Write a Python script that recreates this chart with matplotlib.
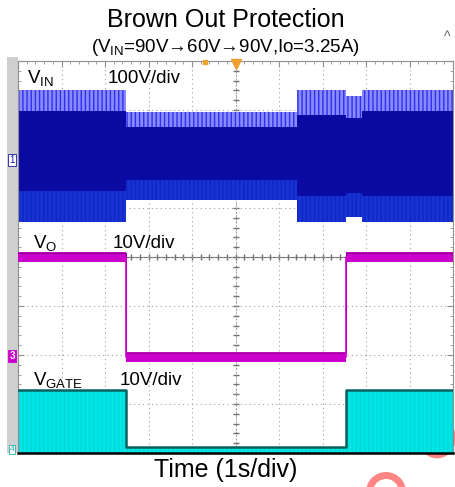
import matplotlib
matplotlib.use("Agg")
import matplotlib.pyplot as plt
import numpy as np
from matplotlib.patches import Rectangle, Circle, Wedge
from matplotlib.ticker import MultipleLocator
from matplotlib.transforms import blended_transform_factory

plt.rcParams["font.family"] = ["Liberation Sans", "DejaVu Sans"]
plt.rcParams["mathtext.fontset"] = "custom"
plt.rcParams["mathtext.rm"] = "Liberation Sans"
plt.rcParams["mathtext.it"] = "Liberation Sans"
plt.rcParams["hatch.linewidth"] = 1.0

W, H = 455, 487

# time in s (1 s/div), levels in screen divisions (0 = centre line)
vin_t = [-5, -2.52, 1.42, 2.55, 2.91, 5]
vin_peak = [3.41, 2.96, 3.41, 3.29, 3.41]
vin_body_top = [2.98, 2.65, 2.90, 2.84, 2.98]
vin_body_low = [1.35, 1.57, 1.25, 1.30, 1.25]
vin_valley = [0.71, 1.16, 0.71, 0.82, 0.71]

vo_t = [-5, -2.52, -2.52, 2.55, 2.55, 5]
vo_div = [0.0, 0.0, -2.04, -2.04, 0.0, 0.0]

vg_t = [-5, -2.52, -2.52, 2.55, 2.55, 5]
vg_div = [-2.72, -2.72, -3.88, -3.88, -2.72, -2.72]

channel_marks = [("1", 1.98), ("3", -2.02), ("4", -3.98)]

BLUE_DARK = "#0b0ba4"
BLUE_MID = "#1733d2"
BLUE_LIGHT = "#8a8aff"
MAGENTA = "#cc00cc"
CYAN = "#00e6e6"
TEAL = "#0a6060"


def padded(vals):
    return list(vals) + [vals[-1]]


fig = plt.figure(figsize=(W / 100, H / 100), dpi=100)
fig.patch.set_facecolor("white")

# grey strip at the left of the scope screen
fig.patches.append(Rectangle((7 / W, 1 - 453 / H), 11 / W, (453 - 57) / H,
                             transform=fig.transFigure, facecolor="#cfcfcf",
                             edgecolor="none", zorder=0))
# watermark remnants (mostly hidden behind the screen)
fig.patches.append(Circle((437 / W, 1 - 438 / H), 19 / W, transform=fig.transFigure,
                          facecolor="#ff8585", edgecolor="none", zorder=0))
fig.patches.append(Wedge((386, -5), 20, 0, 180, width=7,
                         transform=None, facecolor="#ff8585", edgecolor="none", zorder=0))

ax = fig.add_axes([18 / W, 1 - 453 / H, (453 - 18) / W, (453 - 61) / H])
ax.set_zorder(2)
ax.set_xlim(-5, 5)
ax.set_ylim(-4, 4)
ax.set_xticks(np.arange(-5, 5.01, 1))
ax.set_yticks(np.arange(-4, 4.01, 1))
ax.xaxis.set_minor_locator(MultipleLocator(0.2))
ax.yaxis.set_minor_locator(MultipleLocator(0.2))
ax.tick_params(which="both", direction="in", top=True, right=True,
               labelbottom=False, labelleft=False, colors="#909090")
ax.tick_params(which="major", length=4)
ax.tick_params(which="minor", length=2.5)
ax.grid(True, which="major", color="#a0a0a0", linestyle=(0, (1, 3)), linewidth=0.8)
ax.axhline(0, color="#707070", lw=0.8, zorder=1)
ax.axvline(0, color="#909090", lw=0.6, linestyle=(0, (2, 2)), zorder=1)
minor = np.arange(-5, 5.01, 0.2)
ax.plot(minor, np.zeros_like(minor), ls="none", marker="|", ms=5, color="#707070", zorder=1)
minor_y = np.arange(-4, 4.01, 0.2)
ax.plot(np.zeros_like(minor_y), minor_y, ls="none", marker="_", ms=5, color="#707070", zorder=1)

for side in ["left", "right", "top"]:
    ax.spines[side].set_color("#909090")
ax.spines["bottom"].set_color("black")
ax.spines["bottom"].set_linewidth(1.8)

# VIN : comb of peaks, dense body, lighter valley band
ax.fill_between(vin_t, padded(vin_body_top), padded(vin_peak), step="post",
                facecolor=BLUE_LIGHT, edgecolor="#3030ee", hatch="||||", lw=0, zorder=2)
ax.fill_between(vin_t, padded(vin_body_low), padded(vin_body_top), step="post",
                facecolor=BLUE_DARK, lw=0, zorder=2)
ax.fill_between(vin_t, padded(vin_valley), padded(vin_body_low), step="post",
                facecolor=BLUE_MID, edgecolor="#1026c4", hatch="||||", lw=0, zorder=2)

# VO
vo = np.array(vo_div)
ax.fill_between(vo_t, vo - 0.1, vo + 0.1, facecolor=MAGENTA, lw=0, zorder=3)
ax.plot(vo_t, vo + 0.08, color="#8e008e", lw=0.8, zorder=3)
ax.plot(vo_t, vo, color=MAGENTA, lw=1.2, zorder=3)

# VGATE
ax.fill_between(vg_t, -4, vg_div, facecolor=CYAN, edgecolor="#00d8d8",
                hatch="||||", lw=0, zorder=2)
ax.plot(vg_t, vg_div, color=TEAL, lw=1.8, zorder=3)

# trigger markers on top edge
ax.plot([0], [3.93], marker="v", ms=7, color="#f0a030", clip_on=False, zorder=5)
ax.plot([-0.71], [3.97], marker="s", ms=2.5, color="#f0a030", clip_on=False, zorder=5)

# channel markers in the grey strip
btr = blended_transform_factory(fig.transFigure, ax.transData)
ax.text(12 / W, channel_marks[0][1], channel_marks[0][0], transform=btr, ha="center",
        va="center", fontsize=7, color="#1a1ab0", clip_on=False,
        bbox=dict(boxstyle="square,pad=0.1", fc="white", ec="#1a1ab0", lw=0.6))
ax.text(12 / W, channel_marks[1][1], channel_marks[1][0], transform=btr, ha="center",
        va="center", fontsize=7, color="white", fontweight="bold", clip_on=False,
        bbox=dict(boxstyle="square,pad=0.1", fc=MAGENTA, ec=MAGENTA, lw=0.6))
ax.text(12 / W, channel_marks[2][1] + 0.05, channel_marks[2][0], transform=btr, ha="center",
        va="center", fontsize=6, color="#20b0b0", clip_on=False,
        bbox=dict(boxstyle="square,pad=0.1", fc="white", ec="#20b0b0", lw=0.6))

# channel labels
lab = dict(fontsize=13.5, color="black", va="baseline", zorder=6)
ax.text(-4.79, 3.55, r"V$_{\mathrm{IN}}$", **lab)
ax.text(-2.94, 3.55, "100V/div", **lab)
ax.text(-4.66, 0.18, r"V$_{\mathrm{O}}$", **lab)
ax.text(-2.82, 0.18, "10V/div", **lab)
ax.text(-4.66, -2.61, r"V$_{\mathrm{GATE}}$", **lab)
ax.text(-2.66, -2.61, "10V/div", **lab)

fig.text(226 / W, 1 - 20 / H, "Brown Out Protection", ha="center", va="center", fontsize=18)
fig.text(225 / W, 1 - 47 / H, r"(V$_{\mathrm{IN}}$=90V→60V→90V,Io=3.25A)",
         ha="center", va="center", fontsize=13.5)
fig.text(447 / W, 1 - 37 / H, "^", ha="center", va="center", fontsize=10, color="#606060")
fig.text(226 / W, 1 - 470 / H, "Time (1s/div)", ha="center", va="center", fontsize=18)

fig.savefig("out.png", dpi=100, facecolor="white")
